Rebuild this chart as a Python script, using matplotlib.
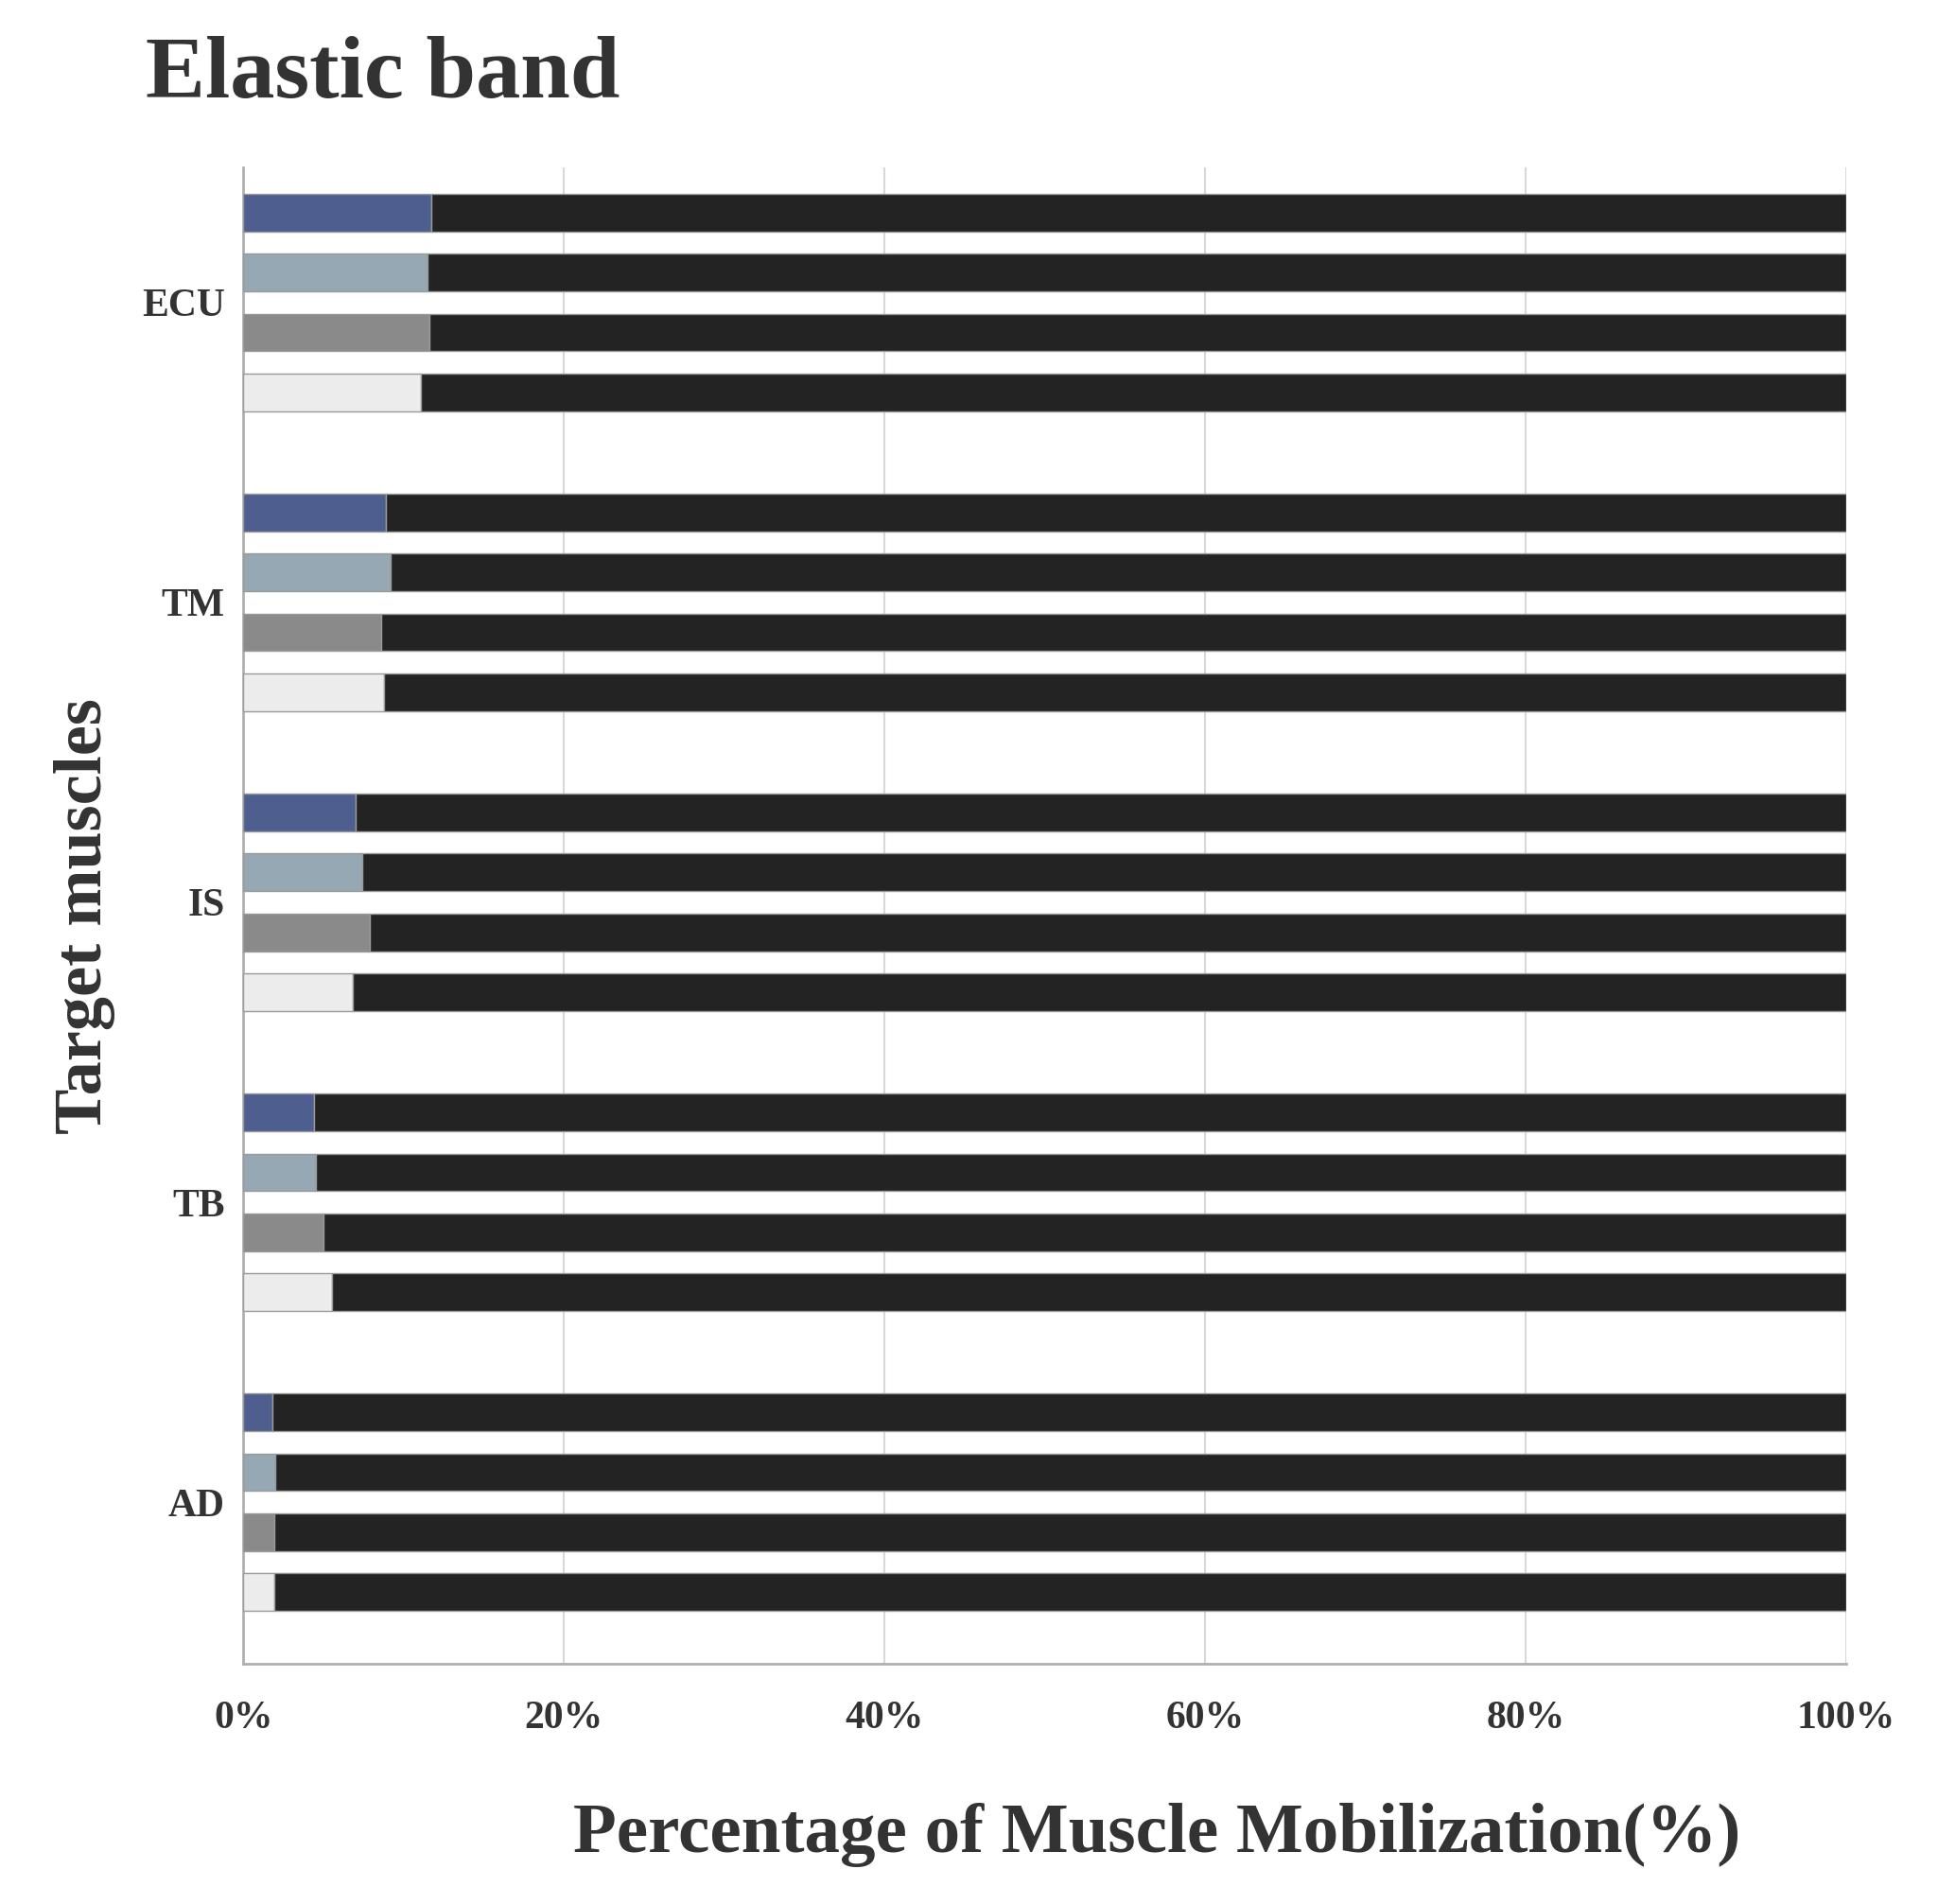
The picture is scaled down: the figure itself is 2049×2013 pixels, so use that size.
import matplotlib
matplotlib.use("Agg")
import matplotlib.pyplot as plt
import numpy as np

muscles = ["ECU", "TM", "IS", "TB", "AD"]
s1 = [11.7, 8.9, 7.0, 4.4, 1.8]
s2 = [11.5, 9.2, 7.4, 4.5, 2.0]
s3 = [11.6, 8.6, 7.9, 5.0, 1.9]
s4 = [11.1, 8.8, 6.8, 5.5, 1.9]
series = [s1, s2, s3, s4]
colors = ["#4e5e8e", "#95a8b4", "#8a8a8a", "#ececec"]
rest_color = "#232323"
xticks = [0, 20, 40, 60, 80, 100]

plt.rcParams['font.family'] = ['Liberation Serif', 'DejaVu Serif']
fig = plt.figure(figsize=(20.49, 20.13), dpi=100)
ax = fig.add_axes([0.1256, 0.126, 0.827, 0.786])
centers = np.arange(len(muscles))[::-1].astype(float)
offsets = [0.3, 0.1, -0.1, -0.3]
h = 0.125
for vals, c, off in zip(series, colors, offsets):
    v = np.array(vals)
    ax.barh(centers + off, v, height=h, color=c, edgecolor="#9a9a9a", linewidth=1, zorder=3)
    ax.barh(centers + off, 100 - v, left=v, height=h, color=rest_color, edgecolor="#9a9a9a", linewidth=1, zorder=3)
ax.set_xlim(0, 100)
ax.set_ylim(-0.54, 4.45)
ax.set_yticks(centers)
ax.set_yticklabels(muscles, fontsize=30, fontweight='bold', color="#333333")
ax.set_xticks(xticks)
ax.set_xticklabels([f"{t}%" for t in xticks], fontsize=30, fontweight='bold', color="#333333")
ax.tick_params(length=0, pad=28)
ax.tick_params(axis='y', pad=14)
ax.grid(axis='x', color="#d8d8d8", linewidth=1.5, zorder=0)
for s in ["top", "right"]:
    ax.spines[s].set_visible(False)
for s in ["left", "bottom"]:
    ax.spines[s].set_color("#b0b0b0")
    ax.spines[s].set_linewidth(2)
ax.set_xlabel("Percentage of Muscle Mobilization(%)", fontsize=54, fontweight='bold', color="#333333", labelpad=50, x=0.57)
ax.set_ylabel("Target muscles", fontsize=52, fontweight='bold', color="#333333", labelpad=20)
fig.text(0.075, 0.96, "Elastic band", fontsize=68, fontweight='bold', color="#333333", va='center')
fig.savefig("out.png", dpi=100)
